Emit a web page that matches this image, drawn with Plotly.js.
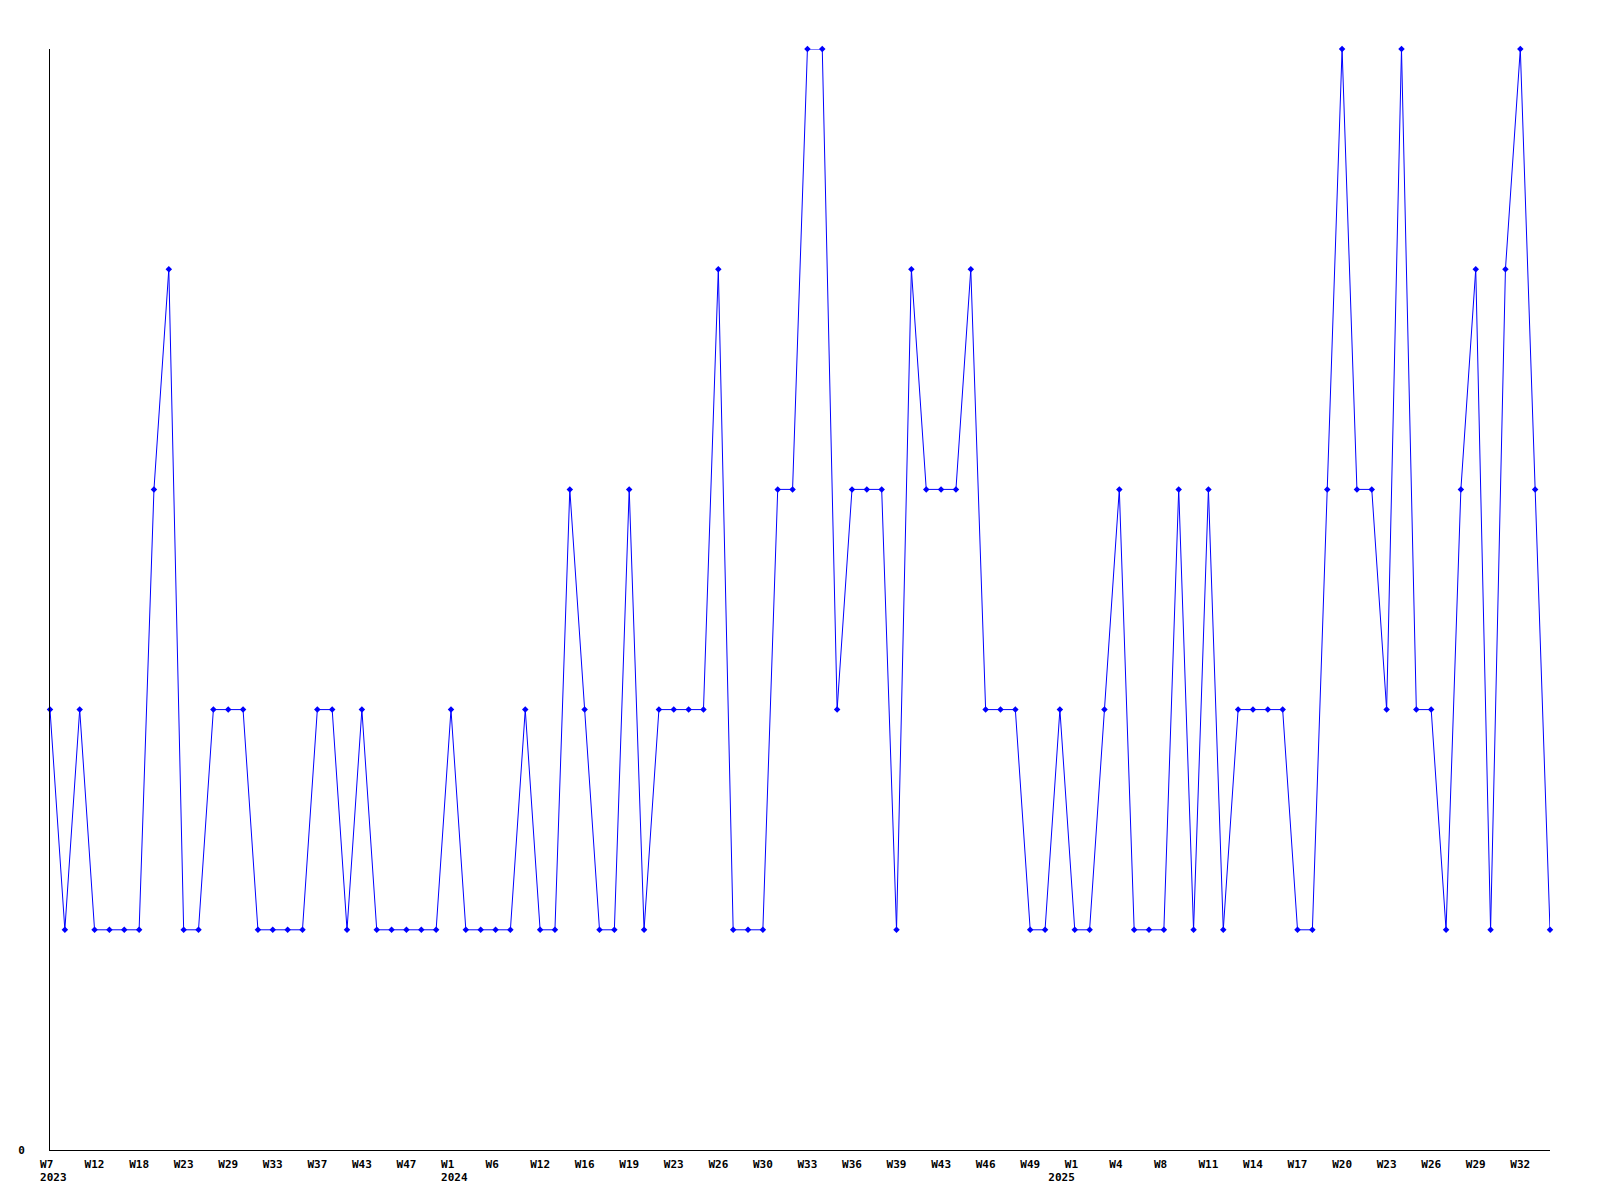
<!DOCTYPE html>
<html>
<head>
<meta charset="utf-8">
<script src="https://cdn.plot.ly/plotly-3.0.1.min.js"></script>
<style>
  html, body { margin: 0; padding: 0; background: #ffffff; }
  #chart { width: 1600px; height: 1200px; }
</style>
</head>
<body>
<div id="chart"></div>
<script>
// Weekly values, one per point, left to right (2023 W7 .. 2025 W33)
var values = [
  2, 1, 2, 1, 1, 1, 1, 3, 4, 1,
  1, 2, 2, 2, 1, 1, 1, 1, 2, 2,
  1, 2, 1, 1, 1, 1, 1, 2, 1, 1,
  1, 1, 2, 1, 1, 3, 2, 1, 1, 3,
  1, 2, 2, 2, 2, 4, 1, 1, 1, 3,
  3, 5, 5, 2, 3, 3, 3, 1, 4, 3,
  3, 3, 4, 2, 2, 2, 1, 1, 2, 1,
  1, 2, 3, 1, 1, 1, 3, 1, 3, 1,
  2, 2, 2, 2, 1, 1, 3, 5, 3, 3,
  2, 5, 2, 2, 1, 3, 4, 1, 4, 5,
  3, 1
];

// Week labels shown on the axis (one every third point)
var weekLabels = [
  "W7", "W12", "W18", "W23", "W29", "W33", "W37", "W43", "W47",
  "W1", "W6", "W12", "W16", "W19", "W23", "W26", "W30", "W33", "W36", "W39", "W43", "W46", "W49",
  "W1", "W4", "W8", "W11", "W14", "W17", "W20", "W23", "W26", "W29", "W32"
];
// Year printed under the first week label of each year
var yearLabels = {0: "2023", 9: "2024", 23: "2025"};
var labelEvery = 3;

var NB = "\u00A0";
function pad3(s) { while (s.length < 3) s = s + NB; return s; }
function big(s) { return "<span style='font-size:11px'>" + s + "</span>"; }

var xIdx = values.map(function (_, i) { return i; });
var tickvals = [], ticktext = [];
weekLabels.forEach(function (w, k) {
  tickvals.push(k * labelEvery);
  var t = big(pad3(w));
  if (yearLabels[k] !== undefined) {
    var y = (k === 23) ? yearLabels[k] + NB + NB + NB + NB : NB + yearLabels[k];
    t += "<br>" + big(y);
  }
  ticktext.push(t);
});

var font = { family: "DejaVu Sans Mono, monospace", size: 11, color: "#000000", weight: "bold" };
var xfont = { family: "DejaVu Sans Mono, monospace", size: 10, color: "#000000", weight: "bold" };

var trace = {
  x: xIdx,
  y: values,
  type: "scatter",
  mode: "lines+markers",
  line: { color: "#0000ff", width: 1 },
  marker: { color: "#0000ff", size: 5, symbol: "diamond" },
  cliponaxis: false,
  hoverinfo: "skip"
};

var layout = {
  width: 1600,
  height: 1200,
  margin: { l: 50, r: 50, t: 49, b: 50, pad: 0 },
  paper_bgcolor: "#ffffff",
  plot_bgcolor: "#ffffff",
  showlegend: false,
  font: font,
  xaxis: {
    type: "linear",
    range: [0, values.length - 1],
    showgrid: false,
    zeroline: false,
    showline: true,
    linecolor: "#000000",
    linewidth: 1,
    ticks: "",
    tickmode: "array",
    tickvals: tickvals,
    ticktext: ticktext,
    tickfont: xfont,
    ticklabelstandoff: 5,
    automargin: false,
    fixedrange: true
  },
  yaxis: {
    range: [0, 5],
    showgrid: false,
    zeroline: false,
    showline: true,
    linecolor: "#000000",
    linewidth: 1,
    ticks: "",
    tickmode: "array",
    tickvals: [0],
    ticktext: ["0"],
    tickfont: font,
    ticklabelstandoff: 22,
    automargin: false,
    fixedrange: true
  }
};

Plotly.newPlot("chart", [trace], layout, { displayModeBar: false, staticPlot: true });
</script>
</body>
</html>
